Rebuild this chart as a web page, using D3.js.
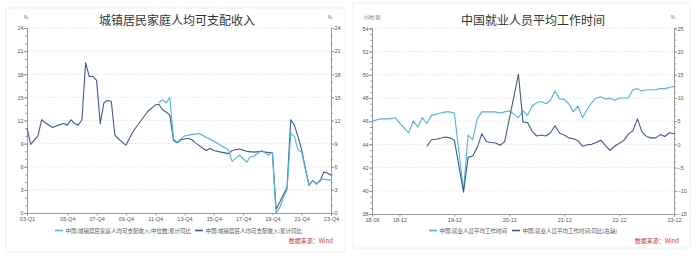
<!DOCTYPE html>
<html>
<head>
<meta charset="utf-8">
<script src="https://cdn.jsdelivr.net/npm/d3@7"></script>
<style>
  body { margin: 0; background: #fff; }
  svg { display: block; }
  .tick text { font-family: "Liberation Sans", Arial, sans-serif; fill: #555; }
</style>
</head>
<body>
<svg id="chart" width="700" height="260"></svg>
<script>
// ---- left chart: urban per capita disposable income, cumulative yoy (%)
var incomeTicks = ["03-Q1", "05-Q4", "07-Q4", "09-Q4", "11-Q4", "13-Q4", "15-Q4", "17-Q4", "19-Q4", "21-Q4", "23-Q4"];
var incomeMean = [
  ["03-Q1", 11.0], ["03-Q2", 8.9], ["03-Q4", 10.0], ["04-Q1", 12.1], ["04-Q2", 11.7], ["04-Q4", 11.1],
  ["05-Q1", 11.3], ["05-Q3", 11.6], ["05-Q4", 11.4], ["06-Q1", 12.1], ["06-Q2", 11.6], ["06-Q3", 11.4],
  ["06-Q4", 12.1], ["07-Q1", 19.5], ["07-Q2", 17.7], ["07-Q3", 17.7], ["07-Q4", 17.2], ["08-Q1", 11.6],
  ["08-Q2", 14.3], ["08-Q3", 14.6], ["08-Q4", 14.5], ["09-Q1", 10.1], ["09-Q2", 9.6], ["09-Q4", 8.8],
  ["10-Q1", 9.7], ["10-Q2", 10.6], ["10-Q4", 11.9], ["11-Q2", 13.2], ["11-Q4", 14.0], ["12-Q1", 14.1],
  ["12-Q2", 13.4], ["12-Q3", 13.1], ["12-Q4", 12.7], ["13-Q1", 9.4], ["13-Q2", 9.1], ["13-Q3", 9.5],
  ["14-Q1", 9.7], ["14-Q2", 9.5], ["14-Q3", 9.1], ["15-Q1", 8.4], ["15-Q2", 8.1], ["15-Q3", 8.4],
  ["15-Q4", 8.1], ["16-Q2", 7.9], ["16-Q4", 7.7], ["17-Q1", 8.1], ["17-Q3", 8.3], ["18-Q1", 8.0],
  ["18-Q3", 7.9], ["19-Q1", 8.0], ["19-Q2", 7.9], ["19-Q4", 7.8], ["20-Q1", 0.5], ["20-Q2", 1.4],
  ["20-Q3", 2.4], ["20-Q4", 3.3], ["21-Q1", 12.1], ["21-Q2", 11.4], ["21-Q3", 9.9], ["21-Q4", 8.2],
  ["22-Q1", 5.8], ["22-Q2", 3.6], ["22-Q3", 4.2], ["22-Q4", 3.8], ["23-Q1", 4.1], ["23-Q2", 5.3],
  ["23-Q3", 5.2], ["23-Q4", 4.9]
];
var incomeMedian = [
  ["12-Q1", 14.3], ["12-Q2", 14.7], ["12-Q3", 14.3], ["12-Q4", 15.0], ["13-Q1", 9.6], ["13-Q2", 9.2],
  ["13-Q4", 10.0], ["14-Q2", 10.2], ["14-Q4", 10.3], ["15-Q4", 9.3], ["16-Q4", 8.2], ["17-Q1", 6.7],
  ["17-Q3", 7.5], ["18-Q1", 6.6], ["18-Q2", 7.3], ["18-Q3", 7.4], ["19-Q1", 8.1], ["19-Q2", 7.8],
  ["19-Q3", 7.5], ["19-Q4", 7.9], ["20-Q1", 0.0], ["20-Q2", 0.7], ["20-Q3", 2.0], ["20-Q4", 3.0],
  ["21-Q1", 10.4], ["21-Q2", 9.9], ["21-Q3", 8.2], ["21-Q4", 7.9], ["22-Q1", 5.7], ["22-Q2", 3.6],
  ["22-Q3", 4.2], ["22-Q4", 3.7], ["23-Q1", 4.3], ["23-Q2", 4.4], ["23-Q3", 4.3], ["23-Q4", 4.3]
];
var incomeYTicks = [0, 3, 6, 9, 12, 15, 18, 21, 24];

// ---- right chart: average weekly working hours (hours/week) and yoy (%)
var hoursTicks = ["18-06", "18-12", "19-12", "20-12", "21-12", "22-12", "23-12"];
var hoursAvg = [
  ["18-06", 46.0], ["18-08", 46.2], ["18-10", 46.2], ["18-11", 46.3], ["19-02", 45.0], ["19-03", 46.0],
  ["19-04", 45.5], ["19-05", 46.3], ["19-06", 45.8], ["19-07", 46.5], ["19-08", 46.6], ["19-09", 46.7],
  ["19-10", 46.8], ["19-11", 46.8], ["19-12", 46.7], ["20-02", 40.0], ["20-03", 44.8], ["20-04", 44.4],
  ["20-05", 46.2], ["20-06", 46.8], ["20-07", 46.8], ["20-08", 46.8], ["20-09", 46.8], ["20-10", 46.7],
  ["20-11", 46.8], ["20-12", 46.9], ["21-01", 46.6], ["21-02", 46.3], ["21-03", 46.9], ["21-04", 46.5],
  ["21-05", 47.3], ["21-06", 47.6], ["21-07", 47.7], ["21-08", 47.5], ["21-09", 47.8], ["21-10", 48.6],
  ["21-11", 47.9], ["21-12", 47.9], ["22-01", 47.5], ["22-02", 46.8], ["22-03", 47.3], ["22-04", 46.3],
  ["22-05", 47.0], ["22-06", 47.6], ["22-07", 48.0], ["22-08", 48.1], ["22-09", 47.9], ["22-10", 48.0],
  ["22-11", 47.8], ["22-12", 48.0], ["23-01", 48.0], ["23-02", 48.0], ["23-03", 48.7], ["23-04", 48.8],
  ["23-05", 48.6], ["23-06", 48.7], ["23-07", 48.7], ["23-08", 48.7], ["23-09", 48.8], ["23-10", 48.8],
  ["23-11", 48.9], ["23-12", 49.0]
];
var hoursYoy = [
  ["19-06", -0.4], ["19-07", 1.0], ["19-08", 1.1], ["19-09", 1.3], ["19-10", 1.6], ["19-11", 1.4],
  ["19-12", 0.9], ["20-02", -10.3], ["20-03", -2.8], ["20-04", -2.5], ["20-05", -0.7], ["20-06", 2.3],
  ["20-07", 0.6], ["20-08", 0.4], ["20-09", 0.3], ["20-10", -0.2], ["20-11", 0.6], ["21-02", 15.1],
  ["21-03", 4.8], ["21-04", 4.7], ["21-05", 2.8], ["21-06", 1.8], ["21-07", 2.0], ["21-08", 1.8],
  ["21-09", 2.5], ["21-10", 4.0], ["21-11", 2.4], ["21-12", 2.0], ["22-01", 1.4], ["22-02", 1.2],
  ["22-03", 0.8], ["22-04", -0.4], ["22-05", -0.1], ["22-06", 0.0], ["22-07", 0.4], ["22-08", 0.9],
  ["22-09", -0.2], ["22-10", -1.3], ["22-11", -0.4], ["22-12", 0.2], ["23-01", 0.8], ["23-02", 2.2],
  ["23-03", 2.9], ["23-04", 5.5], ["23-05", 2.7], ["23-06", 1.7], ["23-07", 1.4], ["23-08", 1.4],
  ["23-09", 2.1], ["23-10", 1.7], ["23-11", 2.5], ["23-12", 2.3]
];
var hoursYTicks = [38, 40, 42, 44, 46, 48, 50, 52, 54];
var yoyYTicks = [-15, -10, -5, 0, 5, 10, 15, 20, 25];

var lightBlue = "#4cb5d8",
    darkBlue = "#3d5a97",
    cjk = "'Noto Sans CJK SC', sans-serif";

// category lists for the two x axes
var quarters = [];
for (var yr = 2003; yr <= 2023; yr++) {
  for (var q = 1; q <= 4; q++) quarters.push(String(yr).slice(2) + "-Q" + q);
}
var months = [];
for (var t = 2018 * 12 + 5; t <= 2023 * 12 + 11; t++) {
  months.push(String(Math.floor(t / 12)).slice(2) + "-" + String(t % 12 + 1).padStart(2, "0"));
}

var svg = d3.select("#chart");

// faint panel frames
svg.append("rect").attr("x", 6).attr("y", 8).attr("width", 339).attr("height", 244)
  .attr("fill", "none").attr("stroke", "#f0f0f0");
svg.append("rect").attr("x", 353).attr("y", 3).attr("width", 337).attr("height", 245)
  .attr("fill", "none").attr("stroke", "#f0f0f0");

function minorValues(ticks, n) {
  var out = [], step = (ticks[1] - ticks[0]) / n;
  for (var v = ticks[0]; v <= ticks[ticks.length - 1] + 1e-9; v += step) out.push(+v.toFixed(4));
  return out;
}

function styleAxis(g) {
  g.select(".domain").attr("stroke", "#999");
  g.selectAll(".tick line").attr("stroke", "#999");
  g.selectAll(".tick text").attr("font-size", "5.5px");
}

function drawPanel(cfg) {
  var x = d3.scalePoint().domain(cfg.cats).range(cfg.xRange),
      yl = d3.scaleLinear().domain(d3.extent(cfg.leftTicks)).range(cfg.yRange),
      yr = d3.scaleLinear().domain(d3.extent(cfg.rightTicks)).range(cfg.yRange),
      x0 = cfg.xRange[0], x1 = cfg.xRange[1], yb = cfg.yRange[0];

  // dotted grid
  svg.append("g").selectAll("line")
    .data(cfg.leftTicks.slice(1))
    .join("line")
    .attr("x1", x0).attr("x2", x1)
    .attr("y1", function(d) { return yl(d); }).attr("y2", function(d) { return yl(d); })
    .attr("stroke", "#dcdcdc").attr("stroke-dasharray", "1.5,1.5").attr("stroke-width", 0.7);

  // minor ticks
  svg.append("g").attr("transform", "translate(" + x0 + ",0)")
    .call(d3.axisLeft(yl).tickValues(minorValues(cfg.leftTicks, cfg.minorN)).tickSize(1.8).tickFormat(""))
    .call(styleAxis);
  svg.append("g").attr("transform", "translate(" + x1 + ",0)")
    .call(d3.axisRight(yr).tickValues(minorValues(cfg.rightTicks, cfg.minorN)).tickSize(1.8).tickFormat(""))
    .call(styleAxis);

  // major ticks with labels
  svg.append("g").attr("transform", "translate(" + x0 + ",0)")
    .call(d3.axisLeft(yl).tickValues(cfg.leftTicks).tickSize(3).tickPadding(0.5).tickFormat(d3.format("d")))
    .call(styleAxis);
  svg.append("g").attr("transform", "translate(" + x1 + ",0)")
    .call(d3.axisRight(yr).tickValues(cfg.rightTicks).tickSize(3).tickPadding(0.5).tickFormat(d3.format("d")))
    .call(styleAxis);

  svg.append("g").attr("transform", "translate(0," + yb + ")")
    .call(d3.axisBottom(x).tickValues(cfg.xTicks).tickSize(2.5).tickPadding(2))
    .call(styleAxis);

  // series
  cfg.series.forEach(function(s) {
    var y = s.right ? yr : yl;
    svg.append("path")
      .datum(s.data)
      .attr("fill", "none")
      .attr("stroke", s.color)
      .attr("stroke-width", 1.1)
      .attr("stroke-linejoin", "round")
      .attr("d", d3.line()
        .x(function(d) { return x(d[0]); })
        .y(function(d) { return y(d[1]); }));
  });

  // title and units
  svg.append("text").attr("x", cfg.titleX).attr("y", 24.5).attr("text-anchor", "middle")
    .attr("font-family", cjk).attr("font-size", "12px").attr("fill", "#333").text(cfg.title);
  svg.append("text").attr("x", cfg.unitLeftX).attr("y", 19).attr("text-anchor", "middle")
    .attr("font-family", cjk).attr("font-size", "5px").attr("fill", "#666").text(cfg.unitLeft);
  svg.append("text").attr("x", x1 - 1).attr("y", 19).attr("text-anchor", "middle")
    .attr("font-family", cjk).attr("font-size", "5px").attr("fill", "#666").text("%");

  // legend
  cfg.legend.forEach(function(l) {
    svg.append("line").attr("x1", l.x).attr("x2", l.x + 8).attr("y1", 230.5).attr("y2", 230.5)
      .attr("stroke", l.color).attr("stroke-width", 1.6);
    svg.append("text").attr("x", l.x + 10.5).attr("y", 232.5)
      .attr("font-family", cjk).attr("font-size", "5.5px").attr("fill", "#555").text(l.label);
  });

  svg.append("text").attr("x", cfg.sourceX).attr("y", 243).attr("text-anchor", "end")
    .attr("font-family", cjk).attr("font-size", "6px").attr("fill", "#cc3333").text("数据来源：Wind");
}

drawPanel({
  cats: quarters, xTicks: incomeTicks, xRange: [27, 331], yRange: [213, 28],
  leftTicks: incomeYTicks, rightTicks: incomeYTicks, minorN: 3,
  title: "城镇居民家庭人均可支配收入", titleX: 177, unitLeft: "%", unitLeftX: 26,
  series: [
    { data: incomeMean, color: darkBlue },
    { data: incomeMedian, color: lightBlue }
  ],
  legend: [
    { x: 55, color: lightBlue, label: "中国:城镇居民家庭人均可支配收入:中位数:累计同比" },
    { x: 195, color: darkBlue, label: "中国:城镇居民人均可支配收入:累计同比" }
  ],
  sourceX: 333
});

drawPanel({
  cats: months, xTicks: hoursTicks, xRange: [372, 674], yRange: [214, 28.3],
  leftTicks: hoursYTicks, rightTicks: yoyYTicks, minorN: 4,
  title: "中国就业人员平均工作时间", titleX: 533, unitLeft: "小时/周", unitLeftX: 372,
  series: [
    { data: hoursAvg, color: lightBlue },
    { data: hoursYoy, color: darkBlue, right: true }
  ],
  legend: [
    { x: 429, color: lightBlue, label: "中国:就业人员平均工作时间" },
    { x: 512, color: darkBlue, label: "中国:就业人员平均工作时间:同比(右轴)" }
  ],
  sourceX: 679
});
</script>
</body>
</html>
